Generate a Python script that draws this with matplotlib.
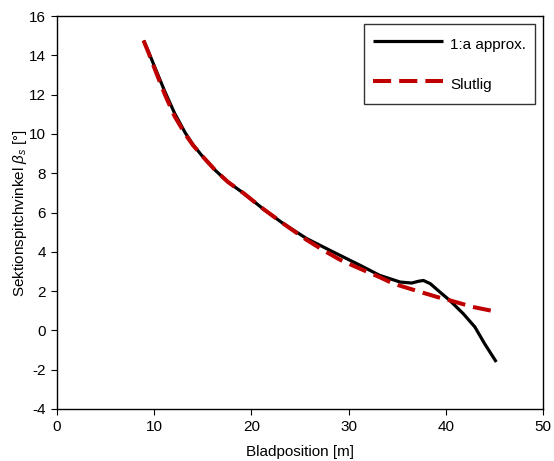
import matplotlib
matplotlib.use("Agg")
import matplotlib.pyplot as plt

plt.rcParams["font.family"] = ["Liberation Sans", "DejaVu Sans"]
plt.rcParams["mathtext.fontset"] = "custom"
plt.rcParams["mathtext.it"] = "Liberation Sans:italic"
plt.rcParams["mathtext.rm"] = "Liberation Sans"
plt.rcParams["axes.unicode_minus"] = False

# 1:a approx.
x_approx = [8.9, 9.4, 10.1, 11.1, 12.1, 13.2, 14.0, 14.9, 16.3, 17.6, 19.2, 21.2,
            23.3, 25.7, 28.1, 30.5, 31.2, 33.2, 35.3, 36.5, 37.2, 37.7, 38.4, 39.4,
            40.4, 41.8, 43.0, 44.0, 45.2]
y_approx = [14.76, 14.2, 13.35, 12.15, 11.05, 10.05, 9.45, 8.9, 8.14, 7.55, 6.98, 6.19,
            5.43, 4.67, 4.07, 3.48, 3.31, 2.8, 2.46, 2.41, 2.5, 2.54, 2.38, 1.95,
            1.53, 0.85, 0.17, -0.68, -1.61]

# Slutlig
x_final = [8.9, 9.4, 10.1, 11.1, 12.1, 13.2, 14.0, 14.9, 16.3, 17.6, 19.2, 21.2,
           23.3, 25.7, 27.5, 29.1, 30.8, 33.2, 34.6, 36.3, 39.1, 40.4, 42.8, 45.4]
y_final = [14.76, 14.15, 13.25, 12.0, 10.9, 9.98, 9.42, 8.9, 8.14, 7.55, 6.98, 6.19,
           5.43, 4.6, 4.05, 3.6, 3.22, 2.71, 2.38, 2.12, 1.7, 1.53, 1.19, 0.93]

fig = plt.figure(figsize=(5.54, 4.61), dpi=100)
ax = fig.add_axes([0.103, 0.113, 0.877, 0.852])

ax.plot(x_approx, y_approx, color="black", lw=2.3, label="1:a approx.",
        solid_joinstyle="round", solid_capstyle="butt")
ax.plot(x_final, y_final, color="#c00000", lw=2.9, ls=(0, (4.5, 2)), label="Slutlig")

ax.set_xlim(0, 50)
ax.set_ylim(-4, 16)
ax.set_xticks(range(0, 51, 10))
ax.set_yticks(range(-4, 17, 2))
ax.tick_params(direction="out", length=4, labelsize=11, color="black", pad=4)
for s in ax.spines.values():
    s.set_linewidth(1.0)

ax.set_xlabel("Bladposition [m]", fontsize=11, labelpad=8)
ax.set_ylabel(r"Sektionspitchvinkel $\it{\beta}_s$ [°]", fontsize=11, labelpad=0)

leg = ax.legend(loc="upper right", fontsize=11, frameon=True, fancybox=False,
                edgecolor="black", handlelength=4.6, handletextpad=0.45,
                handleheight=1.8, labelspacing=1.22, borderpad=0.6,
                borderaxespad=0, bbox_to_anchor=(0.984, 0.98))
leg.get_frame().set_linewidth(1.0)

fig.savefig("out.png", dpi=100)
